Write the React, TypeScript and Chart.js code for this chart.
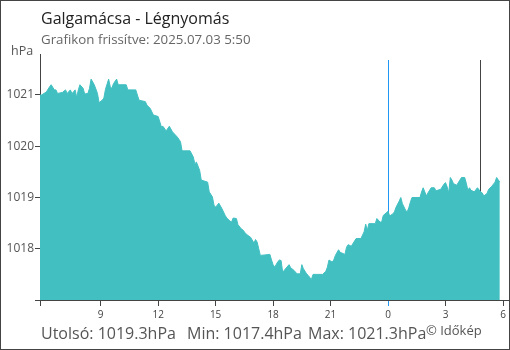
import React, { useEffect, useRef } from "react";
import { Chart, registerables } from "chart.js";

Chart.register(...registerables);

// time in minutes since midnight of the first day (5:50 -> 29:50)
const minutes = [
  350, 355, 370, 380, 385, 395, 400, 405, 420, 430, 435, 445, 450, 455, 460, 465, 470, 475, 485, 490,
  500, 505, 510, 520, 530, 535, 545, 550, 555, 565, 570, 575, 580, 590, 595, 620, 625, 650, 660, 680,
  685, 695, 705, 720, 730, 735, 745, 755, 765, 780, 790, 795, 820, 830, 835, 840, 850, 855, 875, 880,
  890, 895, 900, 910, 920, 930, 935, 945, 950, 955, 965, 970, 980, 985, 995, 1010, 1020, 1025, 1030, 1035,
  1040, 1070, 1075, 1080, 1085, 1095, 1100, 1105, 1110, 1115, 1130, 1135, 1145, 1155, 1165, 1170, 1175, 1185, 1190, 1200,
  1205, 1235, 1245, 1250, 1255, 1265, 1270, 1275, 1285, 1290, 1305, 1310, 1315, 1325, 1335, 1340, 1355, 1365, 1370, 1375,
  1380, 1400, 1405, 1415, 1420, 1425, 1440, 1445, 1455, 1460, 1465, 1475, 1480, 1485, 1495, 1500, 1505, 1510, 1515, 1540,
  1545, 1550, 1555, 1560, 1565, 1575, 1585, 1590, 1605, 1615, 1620, 1625, 1630, 1635, 1640, 1645, 1655, 1665, 1670, 1680,
  1685, 1690, 1695, 1700, 1710, 1720, 1730, 1735, 1740, 1750, 1755, 1765, 1775, 1780, 1790,
];

const pressure = [
  1021.0, 1021.0, 1021.06, 1021.16, 1021.2, 1021.1, 1021.1, 1021.03, 1021.05, 1021.1, 1021.03, 1021.1, 1021.03, 1021.06, 1021.1, 1020.95, 1021.1, 1021.2, 1021.13, 1021.02,
  1021.03, 1021.13, 1021.31, 1021.2, 1021.03, 1020.85, 1020.9, 1020.94, 1021.11, 1021.31, 1021.16, 1021.13, 1021.22, 1021.31, 1021.2, 1021.2, 1021.1, 1021.1, 1020.9, 1020.87,
  1020.8, 1020.74, 1020.61, 1020.58, 1020.38, 1020.39, 1020.3, 1020.39, 1020.28, 1020.18, 1020.09, 1019.91, 1019.91, 1019.79, 1019.66, 1019.69, 1019.53, 1019.34, 1019.3, 1019.11,
  1019.01, 1018.85, 1018.81, 1018.89, 1018.78, 1018.65, 1018.6, 1018.54, 1018.52, 1018.6, 1018.59, 1018.47, 1018.39, 1018.37, 1018.29, 1018.22, 1018.11, 1018.18, 1018.13, 1018.0,
  1017.87, 1017.89, 1017.78, 1017.69, 1017.64, 1017.75, 1017.78, 1017.77, 1017.54, 1017.58, 1017.69, 1017.63, 1017.58, 1017.51, 1017.51, 1017.69, 1017.61, 1017.51, 1017.48, 1017.4,
  1017.5, 1017.5, 1017.56, 1017.64, 1017.78, 1017.74, 1017.78, 1017.87, 1017.98, 1017.93, 1017.89, 1018.03, 1018.08, 1018.05, 1018.15, 1018.2, 1018.2, 1018.33, 1018.48, 1018.36,
  1018.49, 1018.49, 1018.59, 1018.52, 1018.52, 1018.65, 1018.73, 1018.64, 1018.68, 1018.72, 1018.81, 1018.93, 1019.0, 1018.88, 1018.75, 1018.72, 1018.8, 1018.91, 1019.0, 1019.0,
  1019.11, 1019.19, 1019.11, 1019.03, 1019.09, 1019.19, 1019.19, 1019.13, 1019.16, 1019.26, 1019.29, 1019.21, 1019.09, 1019.39, 1019.34, 1019.27, 1019.24, 1019.34, 1019.39, 1019.39,
  1019.28, 1019.14, 1019.19, 1019.14, 1019.11, 1019.19, 1019.11, 1019.09, 1019.03, 1019.08, 1019.16, 1019.22, 1019.3, 1019.39, 1019.3,
];

const xTickValues = [350, 540, 720, 900, 1080, 1260, 1440, 1620, 1800];
const xTickLabels = ["", "9", "12", "15", "18", "21", "0", "3", "6"];
const yTickValues = [1017, 1018, 1019, 1020, 1021];
const yTickLabels = ["", "1018", "1019", "1020", "1021"];

const midnightMinute = 1440;
const sunriseMinute = 1728;

const titleText = "Galgamácsa - Légnyomás";
const subtitleText = "Grafikon frissítve: 2025.07.03 5:50";
const unitText = "hPa";
const lastText = "Utolsó: 1019.3hPa";
const minText = "Min: 1017.4hPa";
const maxText = "Max: 1021.3hPa";
const creditText = "© Időkép";

const FILL = "#41bfc1";
const AXIS = "#444444";
const BLUE = "#2196f3";
const FONT = "'Open Sans', sans-serif";

export default function App() {
  const ref = useRef<HTMLCanvasElement | null>(null);

  useEffect(() => {
    document.body.style.margin = "0";
    const canvas = ref.current;
    if (!canvas) return;

    const markers = {
      id: "markers",
      beforeDatasetsDraw(chart: any) {
        const { ctx, chartArea, scales } = chart;
        const lines: [number, string][] = [
          [midnightMinute, BLUE],
          [sunriseMinute, AXIS],
        ];
        ctx.save();
        ctx.lineWidth = 1;
        for (const [m, c] of lines) {
          const x = Math.round(scales.x.getPixelForValue(m)) + 0.5;
          ctx.strokeStyle = c;
          ctx.beginPath();
          ctx.moveTo(x, 60);
          ctx.lineTo(x, chartArea.bottom);
          ctx.stroke();
        }
        ctx.restore();
      },
      afterDraw(chart: any) {
        const { ctx, chartArea } = chart;
        ctx.save();
        ctx.strokeStyle = AXIS;
        ctx.lineWidth = 1;
        const y = Math.round(chartArea.bottom) + 0.5;
        ctx.beginPath();
        ctx.moveTo(chartArea.right, y);
        ctx.lineTo(510, y);
        ctx.stroke();
        ctx.restore();
      },
    };

    const chart = new Chart(canvas, {
      type: "line",
      data: {
        datasets: [
          {
            data: minutes.map((m, i) => ({ x: m, y: pressure[i] })),
            fill: "start",
            backgroundColor: FILL,
            borderColor: FILL,
            borderWidth: 1,
            pointRadius: 0,
            tension: 0,
          },
        ],
      },
      options: {
        responsive: false,
        animation: false,
        devicePixelRatio: 1,
        layout: { padding: { top: 54, right: 7, left: 0, bottom: 0 } },
        plugins: { legend: { display: false }, tooltip: { enabled: false }, title: { display: false } },
        scales: {
          x: {
            type: "linear",
            min: 350,
            max: 1800,
            afterBuildTicks: (s: any) => {
              s.ticks = xTickValues.map((v) => ({ value: v }));
            },
            afterFit: (s: any) => {
              s.height = 50;
            },
            ticks: {
              autoSkip: false,
              maxRotation: 0,
              padding: 3,
              color: AXIS,
              font: { family: FONT, size: 10 },
              callback: (_v: any, i: number) => xTickLabels[i],
            },
            grid: {
              drawOnChartArea: false,
              tickLength: 6,
              tickColor: (c: any) => (c.tick && c.tick.value === midnightMinute ? BLUE : AXIS),
            },
            border: { color: AXIS },
          },
          y: {
            min: 1017,
            max: 1021.8,
            afterBuildTicks: (s: any) => {
              s.ticks = yTickValues.map((v) => ({ value: v }));
            },
            afterFit: (s: any) => {
              s.width = 40;
            },
            ticks: {
              padding: 1,
              color: "#555",
              font: { family: FONT, size: 12 },
              callback: (_v: any, i: number) => yTickLabels[i],
            },
            grid: { drawOnChartArea: false, tickLength: 5, tickColor: AXIS },
            border: { color: AXIS },
          },
        },
      },
      plugins: [markers],
    });
    return () => chart.destroy();
  }, []);

  const txt = (left: number, top: number, size: number, color: string): React.CSSProperties => ({
    position: "absolute",
    left,
    top,
    fontSize: size,
    lineHeight: `${size}px`,
    color,
    fontFamily: FONT,
    whiteSpace: "pre",
  });

  return (
    <div style={{ position: "relative", width: 510, height: 350, background: "#fff", overflow: "hidden" }}>
      <canvas ref={ref} width={510} height={350} style={{ position: "absolute", left: 0, top: 0 }} />
      <div style={txt(41, 10, 16, "#222")}>{titleText}</div>
      <div style={txt(41, 33.2, 13.3, "#666")}>{subtitleText}</div>
      <div style={txt(11, 45, 12.5, "#555")}>{unitText}</div>
      <div style={txt(41, 324.8, 16, "#555")}>{lastText}</div>
      <div style={txt(187, 324.8, 16, "#555")}>{minText}</div>
      <div style={txt(308, 324.8, 16, "#555")}>{maxText}</div>
      <div style={txt(426, 323.5, 13, "#555")}>{creditText}</div>
      <div
        style={{
          position: "absolute",
          left: 0,
          top: 0,
          width: 510,
          height: 350,
          boxSizing: "border-box",
          border: "1px solid #444",
          pointerEvents: "none",
        }}
      />
    </div>
  );
}
